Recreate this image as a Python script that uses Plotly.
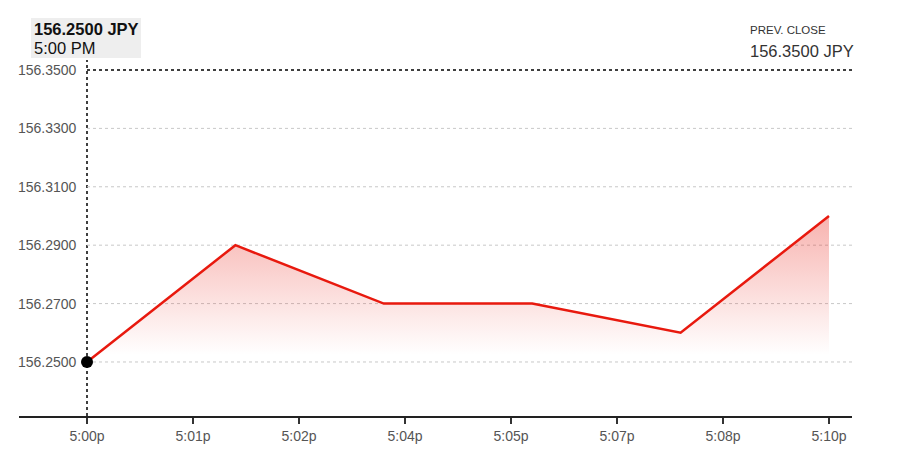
import plotly.graph_objects as go

# ---- data ----
minutes = [0, 2, 4, 6, 8, 10]            # minutes after 5:00 PM
prices = [156.25, 156.29, 156.27, 156.27, 156.26, 156.30]
prev_close = 156.35
y_ticks = [156.25, 156.27, 156.29, 156.31, 156.33, 156.35]
x_tick_labels = ["5:00p", "5:01p", "5:02p", "5:04p", "5:05p", "5:07p", "5:08p", "5:10p"]
hover_price = "156.2500 JPY"
hover_time = "5:00 PM"
prev_label = "PREV. CLOSE"
prev_text = "156.3500 JPY"

W, H = 904, 471
OFF = 8  # page body margin
L, R, T, B = 19 - OFF, 852 - OFF, 60 - OFF, 416 - OFF
FONT = "Liberation Sans, Arial, sans-serif"

def xp(px):
    return (px - OFF - L) / (R - L)

def yp(py):
    return (B - (py - OFF)) / (B - T)

x_range = [-0.9164, 10.31]
y_range = [156.2315, 156.35342]

n = len(x_tick_labels) - 1
x_tick_vals = [i * 10 / n for i in range(n + 1)]

fig = go.Figure()

fig.add_trace(go.Scatter(
    x=minutes, y=prices, mode="lines",
    line=dict(color="#e8190e", width=2.5),
    fill="tozeroy",
    fillgradient=dict(
        type="vertical",
        start=156.2525, stop=156.30,
        colorscale=[[0, "rgba(232,25,14,0)"], [1, "rgba(232,25,14,0.33)"]],
    ),
    hoverinfo="skip", showlegend=False,
))

fig.add_trace(go.Scatter(
    x=[minutes[0]], y=[prices[0]], mode="markers",
    marker=dict(color="black", size=12),
    hoverinfo="skip", showlegend=False,
))

shapes = []
for v in y_ticks[:-1]:
    shapes.append(dict(type="line", xref="x", yref="y", x0=0, x1=x_range[1], y0=v, y1=v,
                       line=dict(color="#c8c8c8", width=1, dash="dot"), layer="below"))
shapes.append(dict(type="line", xref="x", yref="y", x0=0, x1=x_range[1], y0=prev_close, y1=prev_close,
                   line=dict(color="black", width=1.3, dash="dot")))
shapes.append(dict(type="line", xref="x", yref="paper", x0=0, x1=0, y0=0, y1=1,
                   line=dict(color="black", width=1.5, dash="dot"), layer="below"))
shapes.append(dict(type="rect", xref="paper", yref="paper",
                   x0=xp(31), x1=xp(141), y0=yp(58), y1=yp(18),
                   fillcolor="#eeeeee", line=dict(width=0), layer="below"))

annotations = []
for v in y_ticks:
    annotations.append(dict(x=xp(79), y=v, xref="paper", yref="y", text=f"{v:.4f}",
                            showarrow=False, xanchor="right", yanchor="middle",
                            font=dict(family=FONT, size=14, color="#555555")))
annotations.append(dict(x=xp(32), y=yp(29), xref="paper", yref="paper",
                        text=f"<b>{hover_price}</b>", showarrow=False,
                        xanchor="left", yanchor="middle",
                        font=dict(family=FONT, size=16.5, color="#111111")))
annotations.append(dict(x=xp(32), y=yp(48), xref="paper", yref="paper",
                        text=hover_time, showarrow=False,
                        xanchor="left", yanchor="middle",
                        font=dict(family=FONT, size=16.5, color="#111111")))
annotations.append(dict(x=xp(748), y=yp(30), xref="paper", yref="paper",
                        text=prev_label, showarrow=False,
                        xanchor="left", yanchor="middle",
                        font=dict(family=FONT, size=11.5, color="#333333")))
annotations.append(dict(x=xp(748), y=yp(51), xref="paper", yref="paper",
                        text=prev_text, showarrow=False,
                        xanchor="left", yanchor="middle",
                        font=dict(family=FONT, size=16.5, color="#333333")))

fig.update_layout(
    width=W, height=H,
    margin=dict(l=L, r=W - R, t=T, b=H - B, pad=0),
    paper_bgcolor="white", plot_bgcolor="white",
    xaxis=dict(range=x_range, tickvals=x_tick_vals, ticktext=x_tick_labels,
               showgrid=False, zeroline=False, showline=True, linecolor="#222222", linewidth=1.5,
               ticks="outside", ticklen=6, tickwidth=1.5, tickcolor="#333333",
               tickfont=dict(family=FONT, size=14, color="#555555"), fixedrange=True),
    yaxis=dict(range=y_range, showgrid=False, zeroline=False, showticklabels=False,
               showline=False, fixedrange=True),
    shapes=shapes, annotations=annotations,
    hovermode=False,
)

fig.write_html("out.html")
